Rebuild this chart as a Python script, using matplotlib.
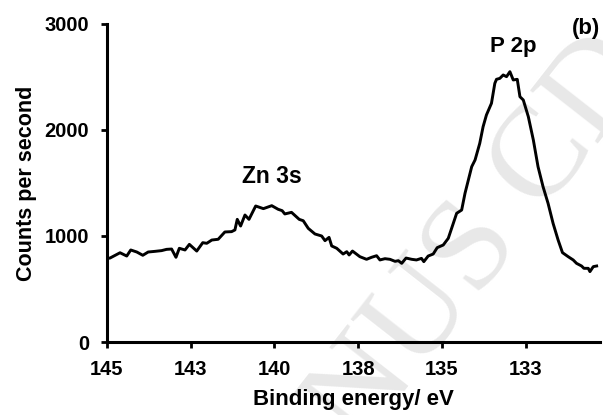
import matplotlib
matplotlib.use("Agg")
import matplotlib.pyplot as plt

plt.rcParams['font.family'] = ['Liberation Sans', 'DejaVu Sans']
plt.rcParams['font.weight'] = 'bold'

# spectrum
energy = [144.96, 144.91, 144.61, 144.41, 144.29, 144.11, 143.93, 143.77, 143.57,
          143.37, 143.22, 143.07, 142.94, 142.84, 142.67, 142.54, 142.32, 142.14,
          142.02, 141.87, 141.68, 141.48, 141.28, 141.18, 141.11, 141.01, 140.88,
          140.76, 140.56, 140.33, 140.08, 139.89, 139.77, 139.69, 139.49, 139.26,
          139.14, 138.99, 138.79, 138.59, 138.49, 138.37, 138.29, 138.14, 137.95,
          137.84, 137.77, 137.67, 137.45, 137.25, 137.10, 136.95, 136.85, 136.70,
          136.55, 136.40, 136.30, 136.20, 136.07, 135.90, 135.76, 135.61, 135.54,
          135.41, 135.26, 135.14, 134.96, 134.81, 134.66, 134.56, 134.41, 134.31,
          134.11, 134.01, 133.87, 133.77, 133.67, 133.52, 133.42, 133.37, 133.27,
          133.17, 133.07, 132.97, 132.87, 132.75, 132.67, 132.57, 132.42, 132.27,
          132.13, 131.98, 131.83, 131.68, 131.53, 131.40, 131.23, 131.08, 130.98,
          130.83, 130.76, 130.63, 130.58, 130.48, 130.38]
counts = [790, 792, 842, 811, 868, 849, 818, 849, 855,
          862, 874, 877, 799, 884, 868, 921, 858, 937,
          931, 962, 969, 1038, 1041, 1057, 1157, 1094, 1198,
          1157, 1283, 1258, 1286, 1252, 1239, 1208, 1223, 1157,
          1144, 1072, 1019, 1000, 956, 987, 906, 884, 830,
          852, 821, 858, 805, 780, 799, 814, 774, 786,
          780, 761, 767, 742, 792, 780, 774, 789, 758,
          811, 830, 890, 915, 978, 1119, 1214, 1245, 1403,
          1654, 1717, 1874, 2031, 2142, 2252, 2440, 2478, 2487,
          2519, 2503, 2550, 2472, 2478, 2314, 2283, 2126, 1906,
          1654, 1465, 1308, 1119, 962, 843, 805, 774, 742,
          717, 695, 695, 664, 711, 717]

xticks = [145, 142.5, 140, 137.5, 135, 132.5]
xtick_labels = ["145", "143", "140", "138", "135", "133"]
yticks = [0, 1000, 2000, 3000]

fig = plt.figure(figsize=(6.03, 4.15), dpi=100)
ax = fig.add_axes([0.1774, 0.1759, 0.8176, 0.7663])

# faint watermark behind everything
fig.text(0.80, 0.42, "NUS CD", family='Liberation Serif', fontweight='normal',
         fontsize=95, color='#e8e8e8', rotation=52, ha='center', va='center', zorder=-5)
ax.patch.set_alpha(0)

ax.plot(energy, counts, color='black', lw=2.1)

ax.set_xlim(145, 130.28)
ax.set_ylim(0, 3000)
ax.set_xticks(xticks)
ax.set_xticklabels(xtick_labels)
ax.set_yticks(yticks)

for s in ['top', 'right']:
    ax.spines[s].set_visible(False)
for s in ['left', 'bottom']:
    ax.spines[s].set_linewidth(2.2)

ax.tick_params(axis='both', width=2, length=4, labelsize=14.5, direction='out')
ax.tick_params(axis='x', pad=9)
ax.tick_params(axis='y', pad=9)

ax.set_xlabel("Binding energy/ eV", fontsize=16, fontweight='bold', labelpad=7)
ax.set_ylabel("Counts per second", fontsize=15.5, fontweight='bold', labelpad=5)

ax.text(140.07, 1557, "Zn 3s", fontsize=16.5, fontweight='bold', ha='center', va='center')
ax.text(132.87, 2783, "P 2p", fontsize=16, fontweight='bold', ha='center', va='center')
ax.text(130.70, 2958, "(b)", fontsize=16, fontweight='bold', ha='center', va='center',
        clip_on=False)

fig.savefig("out.png", dpi=100)
